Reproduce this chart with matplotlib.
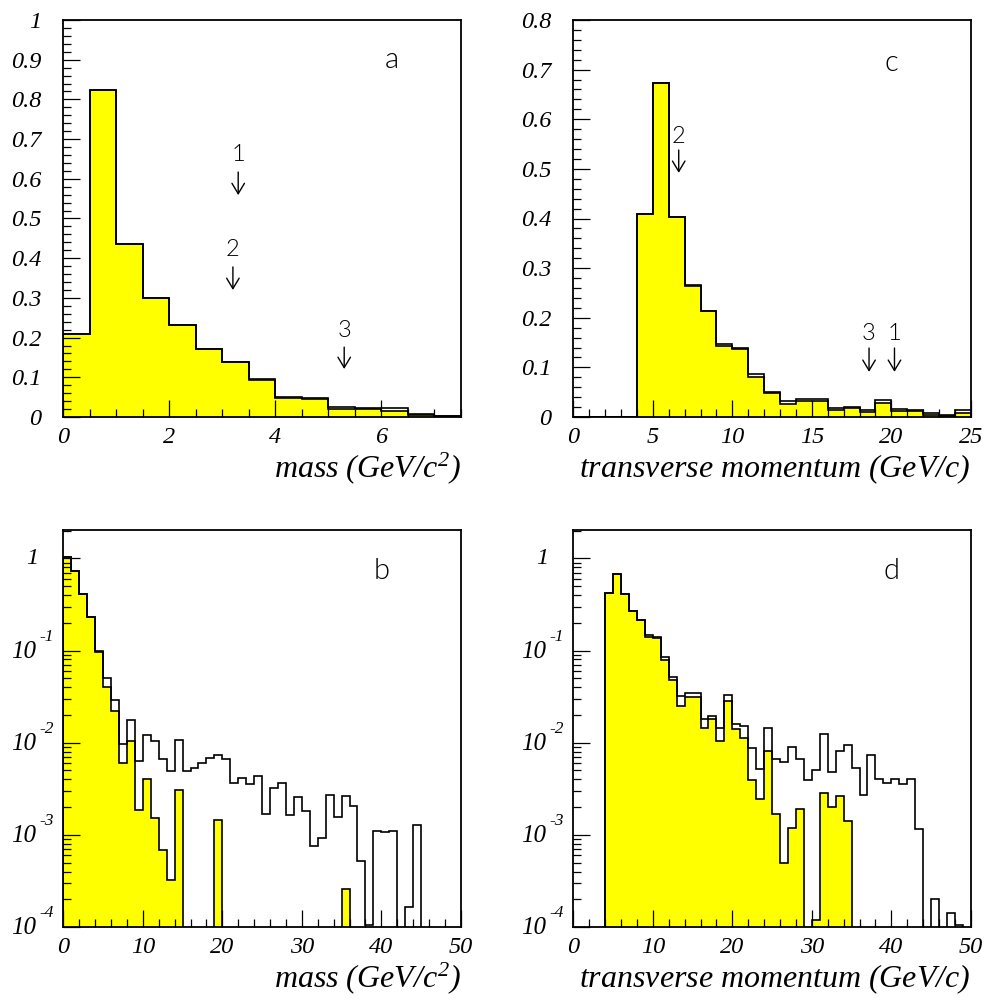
import numpy as np
import matplotlib
matplotlib.use("Agg")
import matplotlib.pyplot as plt
from matplotlib.ticker import MultipleLocator, LogLocator, NullFormatter

plt.rcParams["font.family"] = ["Liberation Serif", "DejaVu Serif"]
plt.rcParams["font.style"] = "italic"
plt.rcParams["mathtext.fontset"] = "custom"
plt.rcParams["mathtext.it"] = "Liberation Serif:italic"
plt.rcParams["mathtext.rm"] = "Liberation Serif:italic"

YELLOW = "#ffff00"
LABEL_FONT = ["Lato", "DejaVu Sans"]

# ---- panel a : mass, linear, bins of 0.5 GeV ----
mass_lin_edges = np.arange(0, 7.51, 0.5)
mass_lin_all = [0.208, 0.823, 0.435, 0.299, 0.232, 0.172, 0.139, 0.096,
                0.051, 0.047, 0.025, 0.0235, 0.022, 0.008, 0.003]
mass_lin_sel = [0.208, 0.823, 0.435, 0.299, 0.232, 0.172, 0.139, 0.094,
                0.049, 0.045, 0.019, 0.019, 0.015, 0.005, 0.002]

# ---- panel c : transverse momentum, linear, bins of 1 GeV ----
pt_lin_edges = np.arange(0, 26, 1)
pt_lin_all = [0, 0, 0, 0, 0.410, 0.674, 0.404, 0.265, 0.214, 0.148, 0.140,
              0.086, 0.051, 0.032, 0.036, 0.036, 0.019, 0.020, 0.015, 0.034,
              0.016, 0.015, 0.009, 0.005, 0.015]
pt_lin_sel = [0, 0, 0, 0, 0.410, 0.674, 0.404, 0.263, 0.213, 0.144, 0.137,
              0.081, 0.049, 0.026, 0.032, 0.032, 0.015, 0.019, 0.010, 0.028,
              0.013, 0.012, 0.004, 0.003, 0.009]

# ---- panel b : mass, log, bins of 1 GeV ----
log_edges = np.arange(0, 51, 1)
mass_log_all = [1.04, 0.73, 0.41, 0.232, 0.099, 0.0498, 0.0289, 0.00964, 0.0174, 0.00635,
                0.0120, 0.0103, 0.00673, 0.0049, 0.0108, 0.0049, 0.00537, 0.00604, 0.0069, 0.00743,
                0.00673, 0.00369, 0.00411, 0.00352, 0.0044, 0.0017, 0.00324, 0.00361, 0.00163, 0.00256,
                0.0018, 0.00076, 0.00093, 0.00273, 0.00158, 0.00262, 0.00204, 0.000516, 0.000106, 0.0011,
                0.00107, 0.0011, 0, 0.000165, 0.00129, 0, 0, 0, 0, 0]
mass_log_sel = [1.04, 0.73, 0.41, 0.232, 0.097, 0.0397, 0.0222, 0.00604, 0.0105, 0.00188,
                0.00405, 0.00153, 0.00068, 0.000321, 0.0031, 0, 0, 0, 0, 0.00144,
                0, 0, 0, 0, 0, 0, 0, 0, 0, 0,
                0, 0, 0, 0, 0, 0.00026, 0, 0, 0, 0,
                0, 0, 0, 0, 0, 0, 0, 0, 0, 0]

# ---- panel d : transverse momentum, log, bins of 1 GeV ----
pt_log_all = [0, 0, 0, 0, 0.417, 0.676, 0.406, 0.268, 0.214, 0.146,
              0.139, 0.084, 0.0519, 0.0324, 0.0348, 0.0348, 0.0182, 0.0197, 0.0145, 0.0325,
              0.0161, 0.0151, 0.00879, 0.0052, 0.0145, 0.00673, 0.0062, 0.00902, 0.00673, 0.00392,
              0.00502, 0.0123, 0.00482, 0.00815, 0.00946, 0.00537, 0.00269, 0.00731, 0.00402, 0.00366,
              0.00405, 0.00352, 0.00402, 0.00117, 0, 0.000201, 0, 0.000142, 0.000104, 0]
pt_log_sel = [0, 0, 0, 0, 0.417, 0.676, 0.406, 0.266, 0.212, 0.141,
              0.136, 0.0787, 0.0478, 0.0251, 0.0315, 0.0315, 0.0143, 0.0179, 0.0104, 0.0282,
              0.0139, 0.0113, 0.00398, 0.00242, 0.00815, 0.0017, 0.000495, 0.0012, 0.00193, 0,
              0.000118, 0.00285, 0.00198, 0.00267, 0.00141, 0, 0, 0, 0, 0,
              0, 0, 0, 0, 0, 0, 0, 0, 0, 0]

# ---- cut markers (number, x, text y, arrow start y, arrow end y) ----
mass_marks = ["1", "2", "3"]
mass_mark_x = [3.3, 3.2, 5.3]
mass_mark_text_y = [0.662, 0.421, 0.219]
mass_mark_top = [0.617, 0.378, 0.176]
mass_mark_tip = [0.559, 0.320, 0.121]

pt_marks = ["2", "3", "1"]
pt_mark_x = [6.63, 18.6, 20.2]
pt_mark_text_y = [0.565, 0.169, 0.169]
pt_mark_top = [0.538, 0.139, 0.139]
pt_mark_tip = [0.492, 0.091, 0.091]

MASS_LABEL = r"$mass\ (GeV/c^{2})$"
PT_LABEL = r"$transverse\ momentum\ (GeV/c)$"

W, H = 988, 999
AX_W, AX_H = 397.5, 397.0


def style_axes(ax):
    for sp in ax.spines.values():
        sp.set_linewidth(1.3)
        sp.set_color("black")
    ax.tick_params(which="both", direction="in", top=False, right=False,
                   width=0.9, labelsize=17.5, color="black")
    ax.tick_params(which="major", length=12.2)
    ax.tick_params(which="minor", length=6.0)
    ax.tick_params(axis="y", pad=16)
    ax.tick_params(axis="x", pad=7.5)


def draw_hist(ax, edges, total, sel, floor=None):
    total = np.asarray(total, dtype=float)
    sel = np.asarray(sel, dtype=float)
    base = 0
    if floor is not None:
        # empty bins go below the visible range of the log axis
        total = np.where(total > 0, total, floor)
        sel = np.where(sel > 0, sel, floor)
        base = floor
    ax.stairs(sel, edges, baseline=base, fill=True, color=YELLOW, lw=0)
    ax.stairs(sel, edges, baseline=base, color="black", lw=1.2)
    ax.stairs(total, edges, baseline=base, color="black", lw=1.2)


def draw_marks(ax, names, xs, ty, top, tip):
    for name, x, t, y0, y1 in zip(names, xs, ty, top, tip):
        ax.text(x, t, name, ha="center", va="center", fontsize=17, color="black",
                family=LABEL_FONT, style="normal", weight=300)
        ax.annotate("", xy=(x, y1), xytext=(x, y0),
                    arrowprops=dict(arrowstyle="->,head_length=0.75,head_width=0.45",
                                    lw=1.0, color="black", shrinkA=0, shrinkB=0))


def log_labels(ax):
    ax.yaxis.set_major_formatter(NullFormatter())
    ax.yaxis.set_minor_formatter(NullFormatter())
    for d in range(0, -5, -1):
        if d == 0:
            ax.annotate("1", xy=(0, 1.0), xycoords=("axes fraction", "data"),
                        xytext=(-18, 0), textcoords="offset points",
                        ha="right", va="center", fontsize=17.5)
        else:
            ax.annotate("10", xy=(0, 10.0 ** d), xycoords=("axes fraction", "data"),
                        xytext=(-19.5, -1), textcoords="offset points",
                        ha="right", va="center", fontsize=18)
            ax.annotate(f"-{-d}", xy=(0, 10.0 ** d), xycoords=("axes fraction", "data"),
                        xytext=(-17.5, 7), textcoords="offset points",
                        ha="left", va="baseline", fontsize=12.5)


def corner_letter(ax, letter, x, y):
    ax.text(x, y, letter, transform=ax.transAxes, ha="center", va="center", color="black",
            fontsize=21, family=LABEL_FONT, style="normal", weight=300)


def x_title(ax, text):
    ax.text(1.0, -0.152, text, transform=ax.transAxes, ha="right",
            va="baseline", fontsize=23)


def main():
    fig = plt.figure(figsize=(W / 100, H / 100), dpi=100)
    left_x = [63.3, 573.3]
    top_y = [20.0, 530.0]

    def make_ax(col, row):
        l = left_x[col] / W
        b = 1 - (top_y[row] + AX_H) / H
        return fig.add_axes([l, b, AX_W / W, AX_H / H])

    # panel a
    ax = make_ax(0, 0)
    draw_hist(ax, mass_lin_edges, mass_lin_all, mass_lin_sel)
    ax.set_xlim(0, 7.5)
    ax.set_ylim(0, 1.0)
    ax.xaxis.set_major_locator(MultipleLocator(2))
    ax.xaxis.set_minor_locator(MultipleLocator(0.5))
    ax.yaxis.set_major_locator(MultipleLocator(0.1))
    ax.yaxis.set_minor_locator(MultipleLocator(0.02))
    ax.yaxis.set_major_formatter(lambda v, p: "0" if abs(v) < 1e-9 else ("1" if abs(v - 1) < 1e-9 else f"{v:.1f}"))
    ax.xaxis.set_major_formatter(lambda v, p: f"{v:g}")
    style_axes(ax)
    draw_marks(ax, mass_marks, mass_mark_x, mass_mark_text_y, mass_mark_top, mass_mark_tip)
    corner_letter(ax, "a", 0.826, 0.899)
    x_title(ax, MASS_LABEL)

    # panel c
    ax = make_ax(1, 0)
    draw_hist(ax, pt_lin_edges, pt_lin_all, pt_lin_sel)
    ax.set_xlim(0, 25)
    ax.set_ylim(0, 0.8)
    ax.xaxis.set_major_locator(MultipleLocator(5))
    ax.xaxis.set_minor_locator(MultipleLocator(1))
    ax.yaxis.set_major_locator(MultipleLocator(0.1))
    ax.yaxis.set_minor_locator(MultipleLocator(0.02))
    ax.yaxis.set_major_formatter(lambda v, p: "0" if abs(v) < 1e-9 else f"{v:.1f}")
    ax.xaxis.set_major_formatter(lambda v, p: f"{v:g}")
    style_axes(ax)
    draw_marks(ax, pt_marks, pt_mark_x, pt_mark_text_y, pt_mark_top, pt_mark_tip)
    corner_letter(ax, "c", 0.801, 0.892)
    x_title(ax, PT_LABEL)

    # panels b and d
    for col, total, sel, letter, title in [
        (0, mass_log_all, mass_log_sel, "b", MASS_LABEL),
        (1, pt_log_all, pt_log_sel, "d", PT_LABEL),
    ]:
        ax = make_ax(col, 1)
        ax.set_yscale("log")
        draw_hist(ax, log_edges, total, sel, floor=1e-6)
        ax.set_xlim(0, 50)
        ax.set_ylim(1e-4, 2.03)
        ax.xaxis.set_major_locator(MultipleLocator(10))
        ax.xaxis.set_minor_locator(MultipleLocator(2))
        ax.xaxis.set_major_formatter(lambda v, p: f"{v:g}")
        ax.yaxis.set_major_locator(LogLocator(base=10, numticks=10))
        ax.yaxis.set_minor_locator(LogLocator(base=10, subs=np.arange(2, 10), numticks=20))
        style_axes(ax)
        log_labels(ax)
        corner_letter(ax, letter, 0.80, 0.897)
        x_title(ax, title)

    fig.savefig("out.png", dpi=100)


if __name__ == "__main__":
    main()
